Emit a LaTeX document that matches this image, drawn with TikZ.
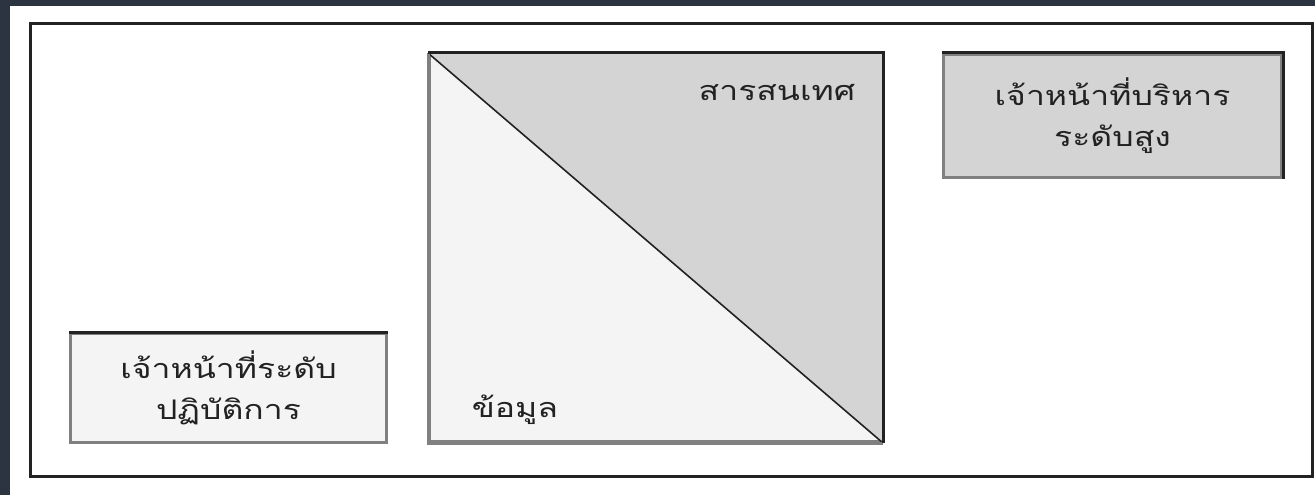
\documentclass[tikz,border=0pt]{standalone}
\usepackage{fontspec}
\newfontfamily\thaifont[Script=Thai,FakeStretch=1.25]{Loma}
\usetikzlibrary{positioning}
\definecolor{edgebg}{HTML}{2C3442}
\definecolor{paleface}{HTML}{F4F4F4}
\definecolor{greyface}{HTML}{D4D4D4}
\definecolor{inkline}{HTML}{222222}
\definecolor{shadeline}{HTML}{808080}

\begin{document}
\begin{tikzpicture}[
    x=1pt, y=-1pt,
    outerframe/.style={draw=inkline, line width=3pt, minimum width=1282pt, minimum height=452pt, inner sep=0pt},
    panel/.style={draw=shadeline, line width=3pt, inner sep=0pt},
    lbl/.style={font=\thaifont\fontsize{27}{41}\selectfont, text=inkline, align=center, inner sep=0pt}
]
\useasboundingbox (0,0) rectangle (1315,495);
\fill[edgebg] (0,0) rectangle (1315,495);
\fill[white] (10,6) rectangle (1315,495);

\node[outerframe] (frame) at (671,250) {};

% data / information square
\node[panel, fill=paleface, minimum width=452pt, minimum height=387pt] (sq) at (655.5,248) {};
\fill[greyface] (sq.north west) -- (sq.north east) -- (sq.south east) -- cycle;
\draw[inkline, line width=1.6pt] (sq.north west) -- (sq.south east);
\draw[shadeline, line width=3pt] (sq.north west) -- (sq.south west) -- (sq.south east);
\draw[inkline, line width=3pt] (sq.south east) -- (sq.north east) -- (sq.north west);
\node[lbl] (info) at (777,93) {สารสนเทศ};
\node[lbl] (data) at (515,410) {ข้อมูล};

% staff boxes
\node[panel, fill=greyface, minimum width=338pt, minimum height=123pt, lbl] (exec) at (1112.5,116) {เจ้าหน้าที่บริหาร\\ระดับสูง};
\draw[inkline, line width=3pt] (exec.north west) -- (exec.north east) -- (exec.south east);
\node[panel, fill=paleface, minimum width=316pt, minimum height=109pt, lbl] (oper) at (228.5,388) {เจ้าหน้าที่ระดับ\\ปฏิบัติการ};
\draw[inkline, line width=3pt] (oper.north west) -- (oper.north east);
\end{tikzpicture}
\end{document}
